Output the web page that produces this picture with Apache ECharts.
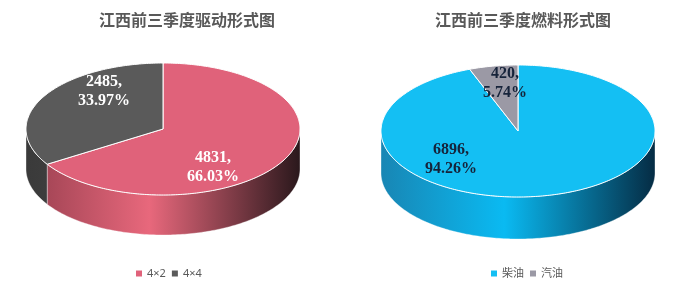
<!DOCTYPE html>
<html>
<head>
<meta charset="utf-8">
<script src="https://cdn.jsdelivr.net/npm/echarts@6/dist/echarts.min.js"></script>
<style>
  html, body { margin: 0; padding: 0; background: #fff; }
  #main { width: 680px; height: 287px; }
</style>
</head>
<body>
<div id="main"></div>
<script>
// 数据
const driveNames = ["4×2", "4×4"]
const driveValues = [4831, 2485]
const fuelNames = ["柴油", "汽油"]
const fuelValues = [6896, 420]

// 两个“3D”饼图的布局和配色
const pies = [
  {
    title: "江西前三季度驱动形式图",
    names: driveNames,
    values: driveValues,
    cx: 163, cy: 129, rx: 137, ry: 66, depth: 40,
    colors: ["#e0627a", "#5a5a5a"],
    sides: [
      ["#9a4050", "#e8687c", "#2a181c"],
      ["#3a3a3a", "#4a4a4a", "#222222"]
    ],
    labelColor: "#ffffff",
    labelAt: [[50, 38], [-59, -38]],
    titleLeft: 94,
    legendLeft: 131
  },
  {
    title: "江西前三季度燃料形式图",
    names: fuelNames,
    values: fuelValues,
    cx: 518, cy: 131, rx: 137, ry: 66, depth: 42,
    colors: ["#14bff3", "#9b99a5"],
    sides: [
      ["#1886b4", "#0abaf2", "#052c44"],
      ["#6a6874", "#8a8894", "#4a4854"]
    ],
    labelColor: "#16233a",
    labelAt: [[-67, 28], [-13, -48]],
    titleLeft: 430,
    legendLeft: 486
  }
]

// 顺时针角度（从正上方开始）-> 椭圆上的点
const arcPoints = (p, a, b, dy) => {
  const pts = []
  const n = Math.max(2, Math.ceil(Math.abs(b - a)))
  for (let i = 0; i <= n; i++) {
    const t = ((a + (b - a) * i / n) * Math.PI) / 180
    pts.push([p.cx + p.rx * Math.sin(t), p.cy - p.ry * Math.cos(t) + dy])
  }
  return pts
}

const series = []
pies.forEach((p) => {
  const total = p.values.reduce((s, v) => s + v, 0)
  let start = 0
  p.values.forEach((v, i) => {
    const s = start
    const e = start + (v / total) * 360
    start = e
    const pct = ((v / total) * 100).toFixed(2) + "%"
    series.push({
      type: "custom",
      name: p.names[i],
      coordinateSystem: "none",
      itemStyle: { color: p.colors[i] },
      data: [v],
      renderItem: () => {
        const children = []
        // 侧面（只画前半部分）
        const a = Math.max(s, 90)
        const b = Math.min(e, 270)
        if (b > a) {
          const pts = arcPoints(p, a, b, 0).concat(arcPoints(p, b, a, p.depth))
          children.push({
            type: "polygon",
            shape: { points: pts },
            style: {
              fill: new echarts.graphic.LinearGradient(p.cx - p.rx, 0, p.cx + p.rx, 0, [
                { offset: 0, color: p.sides[i][0] },
                { offset: 0.45, color: p.sides[i][1] },
                { offset: 1, color: p.sides[i][2] }
              ], true),
              stroke: "rgba(255,255,255,0.6)",
              lineWidth: 0.6
            }
          })
        }
        // 顶面
        children.push({
          type: "polygon",
          shape: { points: [[p.cx, p.cy]].concat(arcPoints(p, s, e, 0)) },
          style: { fill: p.colors[i], stroke: "#ffffff", lineWidth: 1 }
        })
        // 标签
        children.push({
          type: "text",
          x: p.cx + p.labelAt[i][0],
          y: p.cy + p.labelAt[i][1],
          style: {
            text: v + ",\n" + pct,
            fill: p.labelColor,
            font: "bold 16px 'Liberation Serif', 'Times New Roman', serif",
            align: "center",
            verticalAlign: "middle",
            lineHeight: 19
          }
        })
        return { type: "group", children }
      }
    })
  })
})

const option = {
  backgroundColor: "#ffffff",
  animation: false,
  title: pies.map((p) => ({
    text: p.title,
    left: p.titleLeft,
    top: 7,
    textStyle: { fontSize: 16, fontWeight: "bold", color: "#595959", fontFamily: "Noto Sans CJK SC" }
  })),
  legend: pies.map((p) => ({
    data: p.names,
    left: p.legendLeft,
    top: 263,
    icon: "rect",
    itemWidth: 6,
    itemHeight: 6,
    itemGap: 6,
    textStyle: { fontSize: 11, color: "#595959", fontFamily: "'Noto Sans', 'Noto Sans CJK SC', sans-serif" }
  })),
  series
}

const chart = echarts.init(document.getElementById("main"))
chart.setOption(option)
</script>
</body>
</html>
